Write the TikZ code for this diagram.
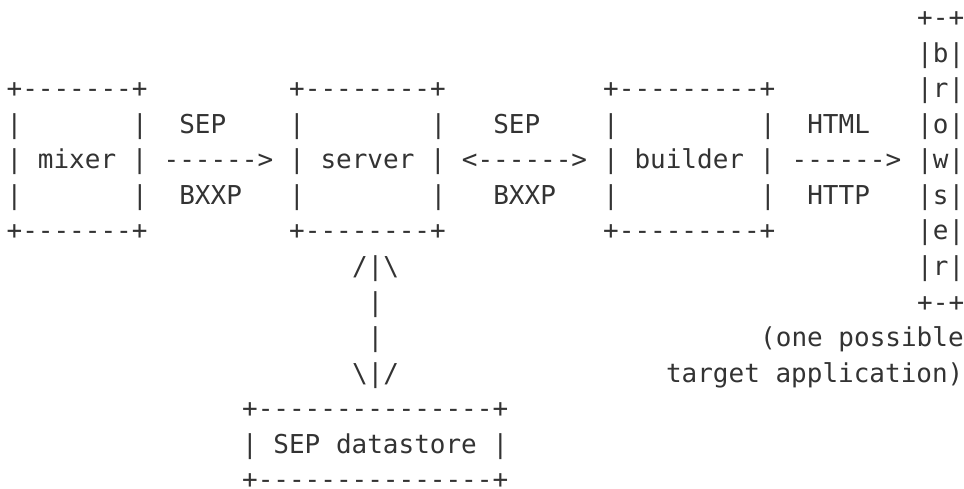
\documentclass[tikz,border=0pt]{standalone}
\usepackage{fontspec}
\setmonofont{DejaVu Sans Mono}
\definecolor{ink}{HTML}{333333}
\tikzset{
  txt/.style={anchor=base west, inner sep=0pt, outer sep=0pt, text=ink,
    font=\ttfamily\fontsize{26}{30}\selectfont}
}
% column -> x, row -> y (baseline)
\newcommand\cx[1]{6.6+#1*15.7}
\newcommand\ry[1]{27+#1*35.5}
\newcommand\chunk[4]{\node[txt] (#1) at ({\cx{#2}},{\ry{#3}}) {#4};}
\begin{document}
\begin{tikzpicture}[x=1pt,y=-1pt]
\path[use as bounding box, fill=white] (0,0) rectangle (964,489);
% browser column
\chunk{brA}{58}{0}{+-+}
\chunk{brB}{58}{1}{|b|}
\chunk{brC}{58}{2}{|r|}
\chunk{brD}{58}{3}{|o|}
\chunk{brE}{58}{4}{|w|}
\chunk{brF}{58}{5}{|s|}
\chunk{brG}{58}{6}{|e|}
\chunk{brH}{58}{7}{|r|}
\chunk{brI}{58}{8}{+-+}
% box tops
\chunk{mixT}{0}{2}{+-------+}
\chunk{serT}{18}{2}{+--------+}
\chunk{bldT}{38}{2}{+---------+}
% row 3
\chunk{mixL3}{0}{3}{|}
\chunk{mixR3}{8}{3}{|}
\chunk{sepA}{11}{3}{SEP}
\chunk{serL3}{18}{3}{|}
\chunk{serR3}{27}{3}{|}
\chunk{sepB}{31}{3}{SEP}
\chunk{bldL3}{38}{3}{|}
\chunk{bldR3}{48}{3}{|}
\chunk{html}{51}{3}{HTML}
% row 4
\chunk{mixer}{0}{4}{| mixer |}
\chunk{arrA}{10}{4}{------>}
\chunk{server}{18}{4}{| server |}
\chunk{arrB}{29}{4}{<------>}
\chunk{builder}{38}{4}{| builder |}
\chunk{arrC}{50}{4}{------>}
% row 5
\chunk{mixL5}{0}{5}{|}
\chunk{mixR5}{8}{5}{|}
\chunk{bxxpA}{11}{5}{BXXP}
\chunk{serL5}{18}{5}{|}
\chunk{serR5}{27}{5}{|}
\chunk{bxxpB}{31}{5}{BXXP}
\chunk{bldL5}{38}{5}{|}
\chunk{bldR5}{48}{5}{|}
\chunk{http}{51}{5}{HTTP}
% box bottoms
\chunk{mixB}{0}{6}{+-------+}
\chunk{serB}{18}{6}{+--------+}
\chunk{bldB}{38}{6}{+---------+}
% vertical arrow
\chunk{upA}{22}{7}{/|\textbackslash}
\chunk{vA}{23}{8}{|}
\chunk{vB}{23}{9}{|}
\chunk{dnA}{22}{10}{\textbackslash|/}
% caption
\chunk{capA}{48}{9}{(one possible}
\chunk{capB}{42}{10}{target application)}
% datastore
\chunk{dsT}{15}{11}{+---------------+}
\chunk{ds}{15}{12}{| SEP datastore |}
\chunk{dsB}{15}{13}{+---------------+}
\end{tikzpicture}
\end{document}
